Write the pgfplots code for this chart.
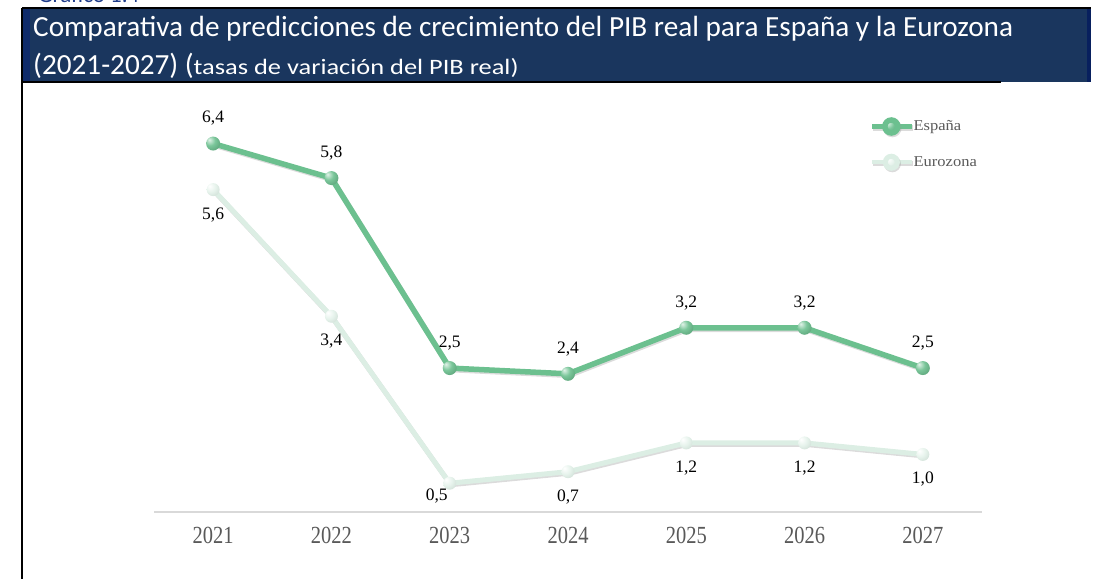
\documentclass[border=0pt]{standalone}
\usepackage{fontspec}
\setmainfont{Liberation Serif}
\newfontfamily\calibri{Carlito}
\usepackage{pgfplots}
\pgfplotsset{compat=1.18}
\definecolor{Head}{HTML}{1A365E}
\definecolor{HeadL}{HTML}{0E2A6A}
\definecolor{HeadR}{HTML}{08205E}
\definecolor{Top}{HTML}{1F3C8A}
\definecolor{ES}{HTML}{6CC08F}
\definecolor{EZ}{HTML}{DCEEE4}
\definecolor{Tick}{HTML}{595959}
\definecolor{AxLine}{HTML}{D9D9D9}
\pgfdeclareradialshading{ballES}{\pgfpoint{-14bp}{14bp}}{%
  color(0bp)=(ES!20!white); color(18bp)=(ES!90!white); color(38bp)=(ES!85!black); color(60bp)=(ES!60!black); color(80bp)=(ES!60!black)}
\pgfdeclareradialshading{ballEZ}{\pgfpoint{-14bp}{14bp}}{%
  color(0bp)=(white); color(20bp)=(EZ!70!white); color(40bp)=(EZ!85!gray); color(60bp)=(EZ!60!gray); color(80bp)=(EZ!60!gray)}
\begin{document}
\begin{tikzpicture}
\path[use as bounding box] (0,0) rectangle (1093pt,579pt);
% cut-off caption at the very top
\begin{scope}
\clip (0,0) rectangle (1093pt,579pt);
\node[anchor=base west, inner sep=0pt, text=Top, font=\calibri\fontsize{23}{23}\selectfont] at (38pt,576.5pt) {Gráfico 1.4};
\end{scope}
% header band
\fill[Head] (22pt,571pt) rectangle (1091pt,497pt);
\fill[HeadL] (22pt,571pt) rectangle (30pt,497pt);
\fill[HeadR] (1087pt,571pt) rectangle (1091pt,497pt);
\draw[black, line width=2pt] (22pt,571pt) -- (1091pt,571pt);
\draw[black, line width=2pt] (22pt,497pt) -- (1001pt,497pt);
\draw[black, line width=2pt] (22pt,571pt) -- (22pt,0pt);
\node[anchor=base west, inner sep=0pt, text=white, font=\calibri\fontsize{29.2}{29}\selectfont] at (33pt,542pt)
  {Comparativa de predicciones de crecimiento del PIB real para España y la Eurozona};
\node[anchor=base west, inner sep=0pt, text=white, font=\calibri\fontsize{29.2}{29}\selectfont] at (33pt,504pt)
  {(2021-2027) ({\fontsize{22}{22}\selectfont\addfontfeature{FakeStretch=1.2}tasas de variación del PIB real)}};

\begin{axis}[
  at={(154pt,67pt)}, anchor=south west,
  scale only axis, width=828pt, height=403pt,
  xmin=-0.5, xmax=6.5, ymin=0, ymax=7,
  axis x line*=bottom, axis y line=none,
  x axis line style={draw=AxLine, line width=2pt},
  xtick={0,...,6},
  xticklabels={2021,2022,2023,2024,2025,2026,2027},
  major tick length=0pt,
  xticklabel style={font=\fontsize{20.5}{20}\selectfont, text=Tick, yscale=1.2, yshift=-9pt},
  ytick=\empty,
  clip=false,
  /pgf/number format/.cd, fixed, fixed zerofill, precision=1, use comma, assume math mode=true,
  /pgfplots/.cd,
  legend style={at={(0.861,0.985)}, anchor=north west, draw=none, fill=none,
    font=\fontsize{15}{15}\selectfont\addfontfeature{FakeStretch=1.1}, text=Tick, row sep=18pt,
    /tikz/every odd column/.append style={column sep=-3pt}},
  legend cell align=left,
]
% España
\addplot[ES, line width=5.5pt, mark=none,
  preaction={draw=black!40, opacity=0.35, line width=5.5pt, transform canvas={xshift=1pt,yshift=-1.5pt}},
  nodes near coords={},
  every node near coord/.style={circle, shading=ballES, minimum size=14pt, inner sep=0pt, anchor=center},
  legend image code/.code={
    \draw[line width=4.5pt, ES] (0pt,0pt) -- (40pt,0pt);
    \shade[shading=ballES] (19pt,0pt) circle (6.5pt);}]
  coordinates {(0,6.4) (1,5.8) (2,2.5) (3,2.4) (4,3.2) (5,3.2) (6,2.5)};
\addlegendentry{España}
% Eurozona
\addplot[EZ, line width=5pt, mark=none,
  preaction={draw=black!40, opacity=0.35, line width=5pt, transform canvas={xshift=1pt,yshift=-1.5pt}},
  nodes near coords={},
  every node near coord/.style={circle, shading=ballEZ, minimum size=13pt, inner sep=0pt, anchor=center},
  legend image code/.code={
    \draw[line width=4.5pt, EZ] (0pt,0pt) -- (40pt,0pt);
    \shade[shading=ballEZ] (19pt,0pt) circle (6pt);}]
  coordinates {(0,5.6) (1,3.4) (2,0.5) (3,0.7) (4,1.2) (5,1.2) (6,1.0)};
\addlegendentry{Eurozona}
% value labels
\addplot[draw=none, mark=none, forget plot, nodes near coords,
  every node near coord/.style={anchor=center, yshift=25pt, text=black, font=\fontsize{17.5}{17}\selectfont}]
  coordinates {(0,6.4) (1,5.8) (2,2.5) (3,2.4) (4,3.2) (5,3.2) (6,2.5)};
\addplot[draw=none, mark=none, forget plot, nodes near coords,
  every node near coord/.style={anchor=center, yshift=-25pt, text=black, font=\fontsize{17.5}{17}\selectfont}]
  coordinates {(0,5.6) (1,3.4) (3,0.7) (4,1.2) (5,1.2) (6,1.0)};
\addplot[draw=none, mark=none, forget plot, nodes near coords,
  every node near coord/.style={anchor=center, yshift=-13pt, xshift=-13pt, text=black, font=\fontsize{17.5}{17}\selectfont}]
  coordinates {(2,0.5)};
\end{axis}
\end{tikzpicture}
\end{document}
